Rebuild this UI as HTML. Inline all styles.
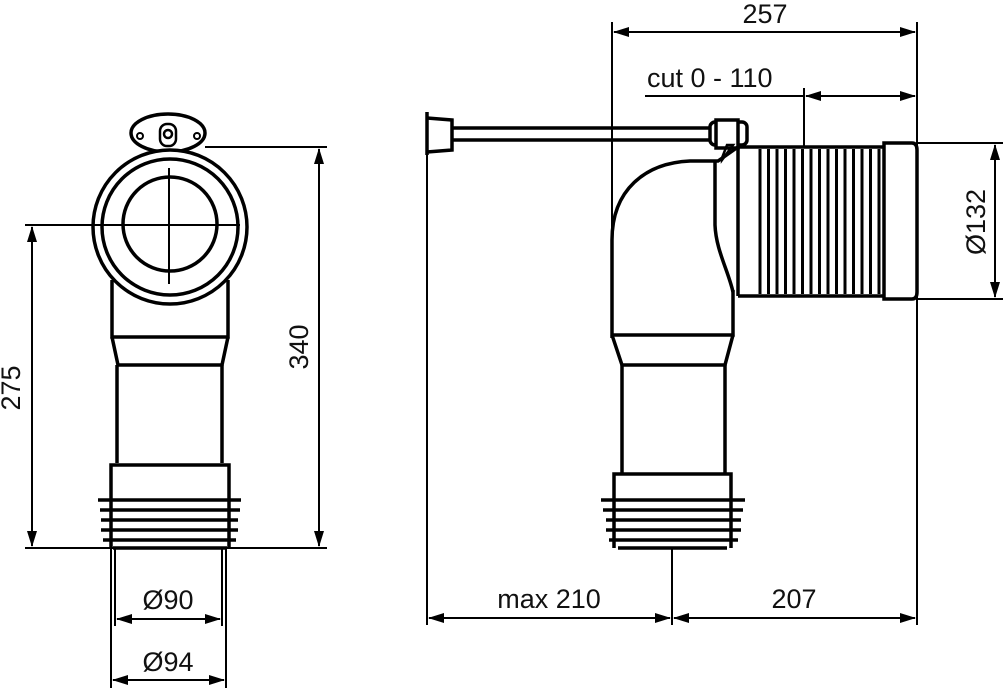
<!DOCTYPE html>
<html><head><meta charset="utf-8"><style>
html,body{margin:0;padding:0;background:#fff;}
svg{display:block;}
text{font-family:"Liberation Sans",Arial,sans-serif;font-size:27px;fill:#111;}
</style></head><body>
<svg width="1003" height="688" viewBox="0 0 1003 688" xmlns="http://www.w3.org/2000/svg">
<defs>
<marker id="a" markerWidth="16" markerHeight="10" refX="15" refY="5" orient="auto-start-reverse" markerUnits="userSpaceOnUse">
<path d="M0,0 L16,5 L0,10 Z" fill="#000"/>
</marker>
</defs>
<g stroke="#000" fill="none">
<!-- LEFT VIEW -->
<g stroke-width="3.5">
<ellipse cx="168" cy="133" rx="37" ry="19" fill="#fff"/>
<circle cx="140" cy="136" r="3" stroke-width="2"/>
<circle cx="197" cy="136" r="3" stroke-width="2"/>
<rect x="160" y="124" width="16" height="22" rx="7" stroke-width="2.5"/>
<circle cx="168" cy="134" r="4" stroke-width="2.5"/>
<path d="M112 280 L112 337 L228 337 L228 280"/>
<circle cx="170" cy="227" r="77" fill="#fff"/>
<circle cx="170" cy="227" r="68"/>
<circle cx="170" cy="224" r="47"/>
<path d="M112 337 L118 365 L222 365 L228 337"/>
<path d="M117 365 L117 463 M222 365 L222 463"/>
<path d="M111 548 L111 465 L229 465 L229 548"/>
<path d="M98 500 L241 500 M100 510 L240 510 M101 520 L238 520 M101 530 L238 530 M103 540 L236 540"/>
<path d="M113 548 L227 548"/>
</g>
<g stroke-width="2">
<path d="M169 168 L169 284"/>
<path d="M25 225 L240 225"/>
<path d="M205 147 L327 147"/>
<path d="M25 548 L327 548"/>
<path d="M319 149 L319 546" marker-start="url(#a)" marker-end="url(#a)"/>
<path d="M32 227 L32 546" marker-start="url(#a)" marker-end="url(#a)"/>
<path d="M115 548 L115 626 M222 548 L222 626"/>
<path d="M111 548 L111 688 M226 548 L226 688"/>
<path d="M117 619 L220 619" marker-start="url(#a)" marker-end="url(#a)"/>
<path d="M113 680 L224 680" marker-start="url(#a)" marker-end="url(#a)"/>
</g>
<!-- RIGHT VIEW -->
<g stroke-width="3.5">
<path d="M427 112 L427 155"/>
<path d="M427 118 L452 120 L452 150 L427 152"/>
<path d="M452 128 L710 128 M452 140 L710 140"/>
<rect x="710" y="122" width="37" height="23" rx="5" fill="#fff"/>
<rect x="716" y="120" width="22" height="28" fill="#fff"/>
<path d="M722 158 L727 145 L733 145 L722 160 Z" stroke-width="2.5"/>
<path d="M612 338 L612 240 C612 190 645 163 690 161 L718 161 L738 147"/>
<path d="M715 162 L715 225 C716 250 728 270 733 292"/>
<path d="M612 335 L733 335 L733 290"/>
<path d="M738 147 L738 296"/>
<path d="M738 147 L885 147 M738 296 L885 296"/>
<path d="M884 143 L912 143 Q917 143 917 150 L917 292 Q917 299 912 299 L884 299 Z"/>
<path d="M612 335 L622 365 L725 365 L733 335"/>
<path d="M622 365 L622 473 M725 365 L725 473"/>
<path d="M614 548 L614 474 L731 474 L731 548"/>
<path d="M601 500 L745 500 M603 510 L743 510 M606 520 L741 520 M606 530 L741 530 M609 540 L738 540"/>
<path d="M618 548 L727 548"/>
</g>
<g stroke-width="3">
<path d="M760 149 L760 294 M768.5 149 L768.5 294 M777 149 L777 294 M785.5 149 L785.5 294 M794 149 L794 294 M802.5 149 L802.5 294 M811 149 L811 294 M819.5 149 L819.5 294 M828 149 L828 294 M836.5 149 L836.5 294 M845 149 L845 294 M853.5 149 L853.5 294 M862 149 L862 294 M870.5 149 L870.5 294 M879 149 L879 294"/>
</g>
<g stroke-width="2">
<path d="M612 22 L612 235"/>
<path d="M917 22 L917 625"/>
<path d="M614 32 L915 32" marker-start="url(#a)" marker-end="url(#a)"/>
<path d="M645 96 L803 96"/>
<path d="M804 88 L804 148"/>
<path d="M806 96 L915 96" marker-start="url(#a)" marker-end="url(#a)"/>
<path d="M917 143 L1003 143 M917 299 L1003 299"/>
<path d="M995 145 L995 297" marker-start="url(#a)" marker-end="url(#a)"/>
<path d="M427 155 L427 625"/>
<path d="M672 548 L672 625"/>
<path d="M429 618 L670 618" marker-start="url(#a)" marker-end="url(#a)"/>
<path d="M674 618 L915 618" marker-start="url(#a)" marker-end="url(#a)"/>
</g>
</g>
<text x="168" y="609" text-anchor="middle">Ø90</text>
<text x="168" y="671" text-anchor="middle">Ø94</text>
<text transform="translate(20,388) rotate(-90)" text-anchor="middle">275</text>
<text transform="translate(308,347) rotate(-90)" text-anchor="middle">340</text>
<text x="765" y="23" text-anchor="middle">257</text>
<text x="647" y="87">cut 0 - 110</text>
<text transform="translate(985,222) rotate(-90)" text-anchor="middle">Ø132</text>
<text x="549" y="608" text-anchor="middle">max 210</text>
<text x="794" y="608" text-anchor="middle">207</text>
</svg>
</body></html>
